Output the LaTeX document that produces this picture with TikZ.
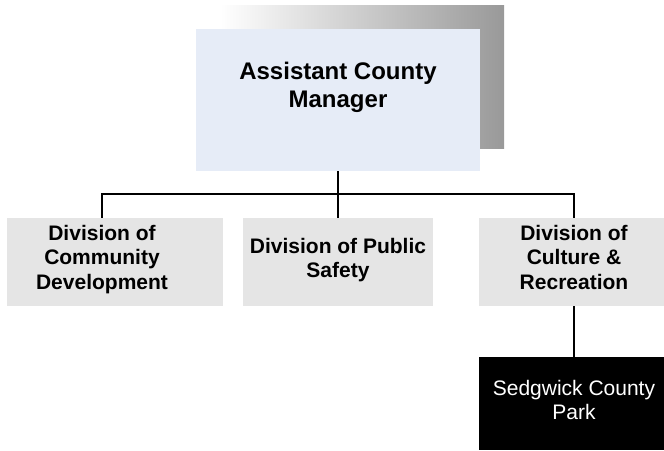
\documentclass[tikz,border=0pt]{standalone}
\usepackage{fontspec}
\setmainfont{Liberation Sans}
\definecolor{topfill}{HTML}{E6ECF7}
\definecolor{divfill}{HTML}{E5E5E5}
\definecolor{shadowgray}{HTML}{999999}
\begin{document}
\begin{tikzpicture}[x=1pt,y=-1pt,
  boxbase/.style={rectangle,draw=none,inner sep=0pt,align=center},
  topbox/.style={boxbase,fill=topfill,minimum width=284pt,minimum height=142pt},
  toptext/.style={boxbase,font=\fontsize{24}{28}\selectfont\bfseries},
  divbox/.style={boxbase,fill=divfill,minimum height=88pt},
  divtext/.style={boxbase,font=\fontsize{21}{24.5}\selectfont\bfseries},
  parkbox/.style={boxbase,fill=black,minimum width=185pt,minimum height=93pt},
  parktext/.style={boxbase,text=white,font=\fontsize{21}{24}\selectfont},
  conn/.style={draw=black,line width=1.5pt},
  connthick/.style={draw=black,line width=2pt}]
\useasboundingbox (0,0) rectangle (664,450);
% shadow
\shade[left color=white,right color=shadowgray] (220,5) rectangle (504,148);
% boxes
\node[topbox] (acm) at (338,100) {};
\node[toptext] (acmtext) at (338,87) {Assistant County\\Manager};
\node[divbox,minimum width=216pt] (left) at (115,262) {};
\node[divtext] (lefttext) at (102,259.5) {Division of\\Community\\Development};
\node[divbox,minimum width=190pt] (mid) at (338,262) {};
\node[divtext] (midtext) at (338,260) {Division of Public\\Safety};
\node[divbox,minimum width=185pt] (right) at (571.5,262) {};
\node[divtext] (righttext) at (574,257) {Division of\\Culture \&\\Recreation};
\node[parkbox] (park) at (571.5,403.5) {};
\node[parktext] (parktext) at (574,400) {Sedgwick County\\Park};
% connectors
\draw[connthick] (acm.south) -- ++(0,23) coordinate (bus);
\draw[conn] (bus) -- (mid.north);
\draw[conn] (lefttext |- left.north) |- (bus) -| (righttext |- right.north);
\draw[conn] (righttext |- right.south) -- (righttext |- park.north);
\end{tikzpicture}
\end{document}
